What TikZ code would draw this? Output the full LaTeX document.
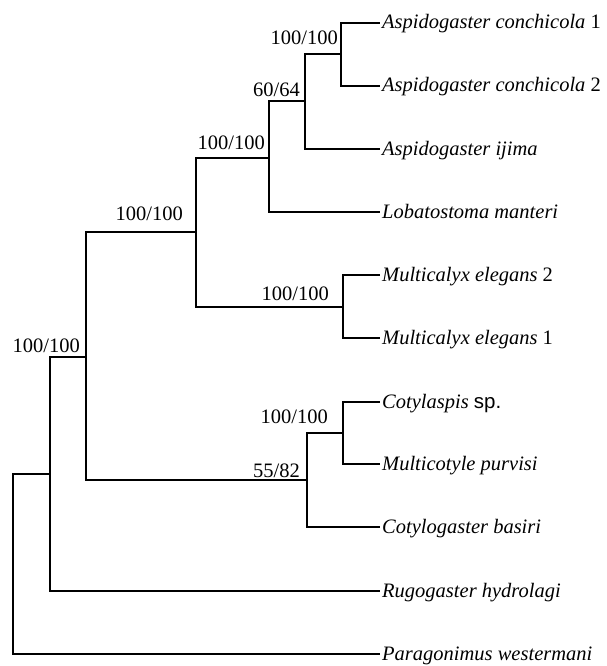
\documentclass[tikz,border=0pt]{standalone}
\usepackage{fontspec}
\setmainfont{Liberation Serif}
\newfontfamily\spsans{Liberation Sans}
\begin{document}
\begin{tikzpicture}[x=1pt,y=-1pt,
  branch/.style={line width=2pt},
  leaf/.style={anchor=west, inner xsep=2pt, inner ysep=0pt, text height=17pt, text depth=5pt, font=\fontsize{20.5}{24}\selectfont\itshape},
  sup/.style={anchor=base east, inner sep=0pt, font=\fontsize{20.5}{24}\selectfont}]
\useasboundingbox (0,0) rectangle (607,666);
% leaves
\node[leaf] (ac1) at (380,23)  {Aspidogaster conchicola \textup{1}};
\node[leaf] (ac2) at (380,86)  {Aspidogaster conchicola \textup{2}};
\node[leaf] (ij)  at (380,149) {Aspidogaster ijima};
\node[leaf] (lob) at (380,212) {Lobatostoma manteri};
\node[leaf] (me2) at (380,275) {Multicalyx elegans \textup{2}};
\node[leaf] (me1) at (380,338) {Multicalyx elegans \textup{1}};
\node[leaf] (cs)  at (380,402) {Cotylaspis \textup{\spsans sp.}};
\node[leaf] (mp)  at (380,464) {Multicotyle purvisi};
\node[leaf] (cb)  at (380,527) {Cotylogaster basiri};
\node[leaf] (rug) at (380,591) {Rugogaster hydrolagi};
\node[leaf] (par) at (380,654) {Paragonimus westermani};
% internal nodes
\coordinate (r) at (13,563.5);
\coordinate (a) at (50,473.5);
\coordinate (b) at (86,356.5);
\coordinate (c) at (196,231.5);
\coordinate (d) at (269,157.5);
\coordinate (e) at (305,101.5);
\coordinate (f) at (341,54.5);
\coordinate (g) at (343,306.5);
\coordinate (h) at (307,480);
\coordinate (k) at (343,433);
% branches
\draw[branch] (r) |- (a);
\draw[branch] (r) |- (par.west);
\draw[branch] (a) |- (b);
\draw[branch] (a) |- (rug.west);
\draw[branch] (b) |- (c);
\draw[branch] (b) |- (h);
\draw[branch] (c) |- (d);
\draw[branch] (c) |- (g);
\draw[branch] (d) |- (e);
\draw[branch] (d) |- (lob.west);
\draw[branch] (e) |- (f);
\draw[branch] (e) |- (ij.west);
\draw[branch] (f) |- (ac1.west);
\draw[branch] (f) |- (ac2.west);
\draw[branch] (g) |- (me2.west);
\draw[branch] (g) |- (me1.west);
\draw[branch] (h) |- (k);
\draw[branch] (h) |- (cb.west);
\draw[branch] (k) |- (cs.west);
\draw[branch] (k) |- (mp.west);
% support values
\node[sup] (sf) at (338,45)  {100/100};
\node[sup] (se) at (300,97)  {60/64};
\node[sup] (sd) at (265,149) {100/100};
\node[sup] (sc) at (183,220) {100/100};
\node[sup] (sg) at (329,300) {100/100};
\node[sup] (sb) at (80,352)  {100/100};
\node[sup] (sk) at (328,423) {100/100};
\node[sup] (sh) at (300,477) {55/82};
\end{tikzpicture}
\end{document}
